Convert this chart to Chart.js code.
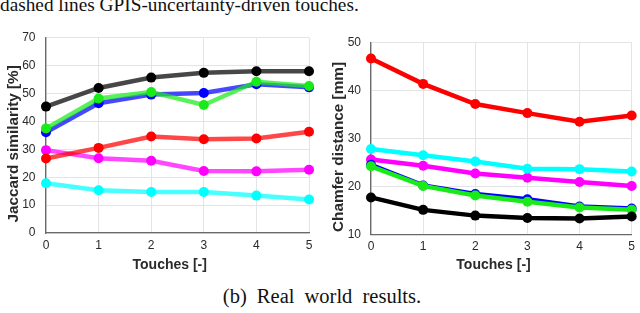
<!DOCTYPE html>
<html>
<head>
<meta charset="utf-8">
<script src="https://cdn.jsdelivr.net/npm/chart.js@4/dist/chart.umd.min.js"></script>
<style>
  html, body { margin: 0; padding: 0; background: #fff; width: 640px; height: 313px; overflow: hidden; position: relative; }
  .txt { position: absolute; font-family: "Liberation Serif", "Times New Roman", serif; color: #111; white-space: nowrap; line-height: 1; }
  #topText { left: 0; top: -4.7px; font-size: 19.3px; }
  #caption { left: 0; width: 644px; text-align: center; top: 286px; font-size: 20.5px; word-spacing: 5px; }
  canvas { position: absolute; }
</style>
</head>
<body>
<div class="txt" id="topText">dashed lines GPIS-uncertainty-driven touches.</div>
<canvas id="c1" width="320" height="260" style="left:0;top:20px;width:320px;height:260px"></canvas>
<canvas id="c2" width="320" height="260" style="left:320px;top:20px;width:320px;height:260px"></canvas>
<div class="txt" id="caption">(b) Real world results.</div>
<script>
const touches = [0, 1, 2, 3, 4, 5];

// Jaccard similarity [%]
const jacBlack   = [45.3, 52.0, 55.7, 57.4, 58.0, 58.0];
const jacGreen   = [37.5, 48.2, 50.5, 45.9, 54.2, 52.7];
const jacBlue    = [36.1, 46.5, 49.6, 50.2, 53.3, 52.2];
const jacRed     = [26.7, 30.5, 34.6, 33.6, 33.9, 36.3];
const jacMagenta = [29.7, 26.8, 25.9, 22.2, 22.1, 22.7];
const jacCyan    = [17.8, 15.3, 14.7, 14.7, 13.4, 12.0];

// Chamfer distance [mm]
const chaBlack   = [17.7, 15.1, 13.9, 13.4, 13.3, 13.7];
const chaGreen   = [24.2, 20.1, 18.1, 16.8, 15.6, 15.1];
const chaBlue    = [24.5, 20.2, 18.4, 17.3, 15.8, 15.4];
const chaRed     = [46.7, 41.4, 37.2, 35.3, 33.5, 34.8];
const chaCyan    = [27.8, 26.5, 25.2, 23.7, 23.6, 23.1];
const chaMagenta = [25.6, 24.3, 22.7, 21.8, 20.9, 20.1];

const COLORS = {
  black: [0, 0, 0],
  green: [25, 235, 25],
  blue: [0, 0, 255],
  red: [255, 0, 0],
  magenta: [255, 0, 255],
  cyan: [0, 255, 255]
};

function ds(data, col, lineAlpha) {
  const c = COLORS[col];
  return {
    data: data,
    borderColor: `rgba(${c[0]},${c[1]},${c[2]},${lineAlpha})`,
    backgroundColor: `rgb(${c[0]},${c[1]},${c[2]})`,
    pointBackgroundColor: `rgb(${c[0]},${c[1]},${c[2]})`,
    pointBorderWidth: 0,
    pointRadius: 5,
    borderWidth: 4.5,
    tension: 0,
    clip: false
  };
}

const tickFont = { family: "'Liberation Sans', Arial, sans-serif", size: 12 };
const titleFontY = { family: "'Liberation Sans', Arial, sans-serif", size: 15.3, weight: 'bold' };
const titleFontX = { family: "'Liberation Sans', Arial, sans-serif", size: 14, weight: 'bold' };

function makeChart(id, datasets, yMin, yMax, yTitle, cfg) {
  return new Chart(document.getElementById(id), {
    type: 'line',
    data: { labels: touches, datasets: datasets },
    options: {
      responsive: false,
      animation: false,
      events: [],
      layout: { autoPadding: false, padding: { top: cfg.padTop, right: cfg.padRight, left: 0, bottom: 0 } },
      plugins: { legend: { display: false }, tooltip: { enabled: false } },
      scales: {
        x: {
          type: 'linear', min: 0, max: 5,
          ticks: { stepSize: 1, color: '#2a2a2a', font: tickFont, padding: 5, maxRotation: 0 },
          grid: { color: '#e4e4e4', drawTicks: false, lineWidth: 1 },
          border: { color: '#6a6a6a', width: 1.3 },
          title: { display: true, text: 'Touches [-]    ', color: '#2a2a2a', font: titleFontX, padding: { top: 0, bottom: 6 } },
          afterFit: s => { s.height = cfg.xHeight; }
        },
        y: {
          min: yMin, max: yMax,
          ticks: { stepSize: 10, color: '#2a2a2a', font: tickFont, padding: cfg.yTickPad },
          grid: { color: '#e4e4e4', drawTicks: false, lineWidth: 1 },
          border: { color: '#6a6a6a', width: 1.3 },
          title: { display: true, text: yTitle + '    ', color: '#2a2a2a', font: titleFontY, padding: { top: cfg.yTitlePad, bottom: 0 } },
          afterFit: s => { s.width = cfg.yWidth; }
        }
      }
    }
  });
}

const la = 0.72;
makeChart('c1', [
  ds(jacBlack, 'black', la),
  ds(jacGreen, 'green', la),
  ds(jacBlue, 'blue', la),
  ds(jacRed, 'red', la),
  ds(jacMagenta, 'magenta', la),
  ds(jacCyan, 'cyan', la)
], 0, 70, 'Jaccard similarity [%]', { padTop: 17.3, padRight: 11, xHeight: 47, yWidth: 46, yTickPad: 10.5, yTitlePad: 4.5 });

makeChart('c2', [
  ds(chaBlack, 'black', 1),
  ds(chaGreen, 'green', 1),
  ds(chaBlue, 'blue', 1),
  ds(chaRed, 'red', 1),
  ds(chaCyan, 'cyan', 1),
  ds(chaMagenta, 'magenta', 1)
], 10, 50, 'Chamfer distance [mm]', { padTop: 22.7, padRight: 5, xHeight: 45.7, yWidth: 51, yTickPad: 10, yTitlePad: 9.5 });
</script>
</body>
</html>
